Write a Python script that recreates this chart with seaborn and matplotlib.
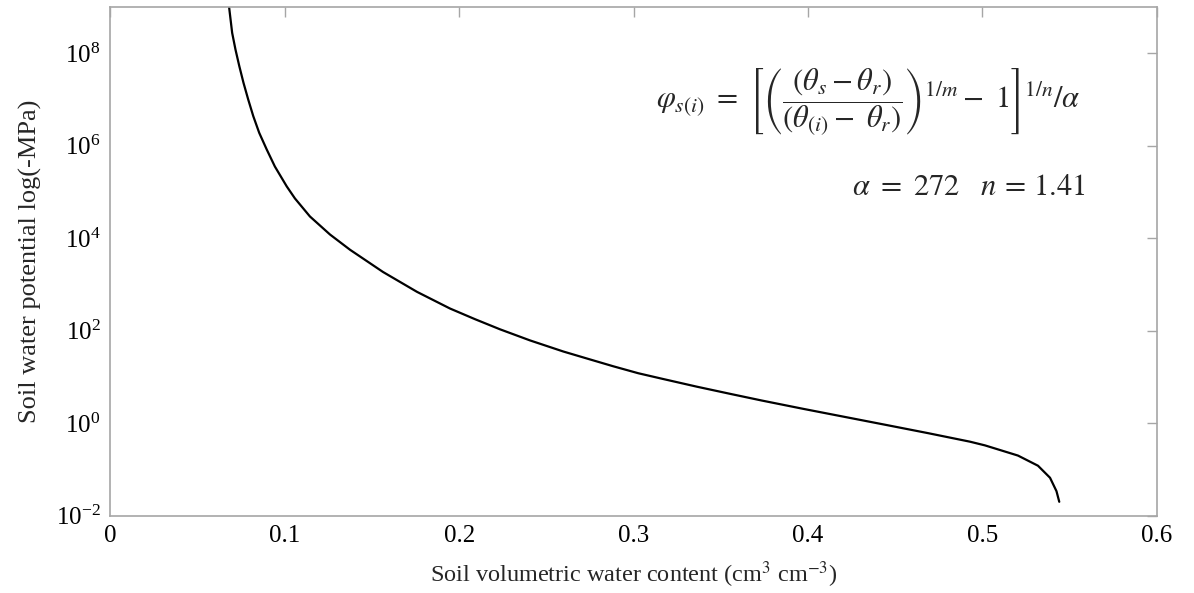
import numpy as np
import pandas as pd
import matplotlib
matplotlib.use("Agg")
import matplotlib.pyplot as plt
import seaborn as sns

# Soil water retention curve: volumetric water content vs. log10 of water potential
theta = [0.0680, 0.0698, 0.0717, 0.0739, 0.0763, 0.0790, 0.0819, 0.0853,
         0.0896, 0.0943, 0.1011, 0.1058, 0.1144, 0.1259, 0.1374, 0.1563,
         0.1758, 0.1947, 0.2090, 0.2234, 0.2406, 0.2597, 0.2740, 0.2884,
         0.3027, 0.3170, 0.3362, 0.3553, 0.3735, 0.3973, 0.4212, 0.4451,
         0.4688, 0.4929, 0.5015, 0.5204, 0.5319, 0.5388, 0.5425, 0.5441]
log_psi = [9.01, 8.44, 8.08, 7.72, 7.36, 7.00, 6.64, 6.28,
           5.92, 5.55, 5.12, 4.86, 4.47, 4.08, 3.75, 3.27,
           2.84, 2.48, 2.25, 2.03, 1.79, 1.55, 1.39, 1.23,
           1.08, 0.955, 0.79, 0.635, 0.49, 0.31, 0.135, -0.04,
           -0.215, -0.40, -0.48, -0.70, -0.92, -1.18, -1.47, -1.70]

x_ticks = [0, 0.1, 0.2, 0.3, 0.4, 0.5, 0.6]
y_tick_exponents = [-2, 0, 2, 4, 6, 8]

alpha_param = 272
n_param = 1.41

df = pd.DataFrame({"theta": theta, "psi": np.power(10.0, log_psi)})

sns.set_theme(style="white")
plt.rcParams["font.family"] = ["Liberation Serif", "DejaVu Serif"]
plt.rcParams["mathtext.fontset"] = "stix"

fig = plt.figure(figsize=(11.94, 5.93), dpi=100)
ax = fig.add_axes([0.0925, 0.1304, 0.8763, 0.8578])

sns.lineplot(data=df, x="theta", y="psi", color="black", linewidth=1.6,
             ax=ax, sort=False, estimator=None)

ax.set_yscale("log")
ax.set_xlim(0, 0.6)
ax.set_ylim(1e-2, 1e9)
ax.set_xticks(x_ticks)
ax.set_xticklabels([f"{t:g}" for t in x_ticks])
ax.set_yticks([10.0 ** e for e in y_tick_exponents])
ax.set_yticklabels([rf"$\mathdefault{{10^{{{e}}}}}$" for e in y_tick_exponents])
ax.minorticks_off()

edge = "#a6a6a6"
for s in ax.spines.values():
    s.set_color(edge)
    s.set_linewidth(1.2)
ax.tick_params(axis="both", which="major", direction="in", length=7,
               width=1.0, color=edge, labelsize=18, labelcolor="black",
               top=True, right=True, pad=7)

ax.set_xlabel(r"Soil volumetric water content (cm$^{3}$ cm$^{-3}$)",
              fontsize=17.5, labelpad=9)
ax.set_ylabel("Soil water potential log(-MPa)", fontsize=19, labelpad=10)

eq = (r"$\varphi_{s(i)}\ =\ \left[\left(\dfrac{(\theta_s - \theta_r)}"
      r"{(\theta_{(i)} -\ \theta_r)}\right)^{1/m} -\ 1\right]^{1/n} / \alpha$")
ax.text(0.9267, 0.812, eq, transform=ax.transAxes, fontsize=22,
        ha="right", va="center")
ax.text(0.9314, 0.646, rf"$\alpha\ =\ {alpha_param}\quad n\, =\, {n_param}$",
        transform=ax.transAxes, fontsize=22, ha="right", va="center")

fig.savefig("out.png", dpi=100)
